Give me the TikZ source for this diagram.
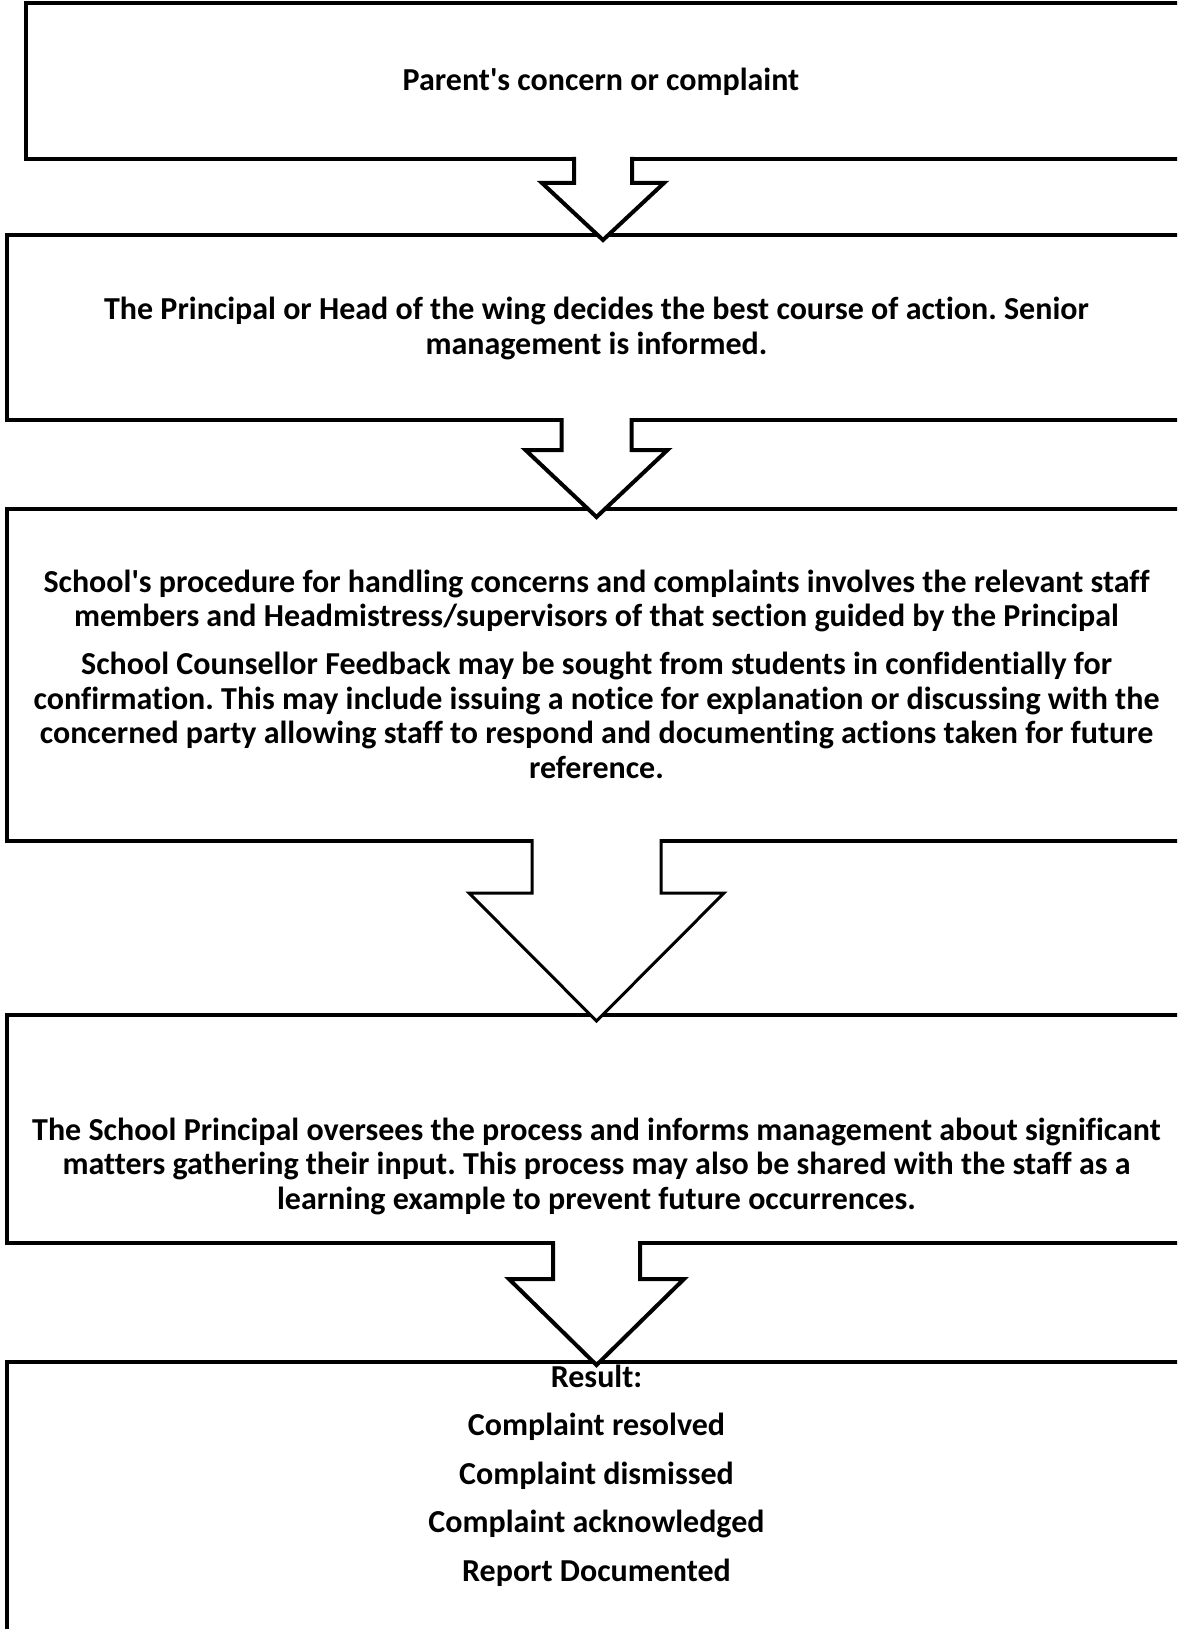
\documentclass[tikz,border=0pt]{standalone}
\usepackage{fontspec}
\setmainfont{Carlito}[Ligatures={NoCommon}]
\usetikzlibrary{calc}
\frenchspacing

\begin{document}
\begin{tikzpicture}[x=1pt,y=-1pt]
\tikzstyle{every node}+=[inner sep=0pt,outer sep=0pt]
\tikzstyle{stage}=[draw=black,line width=4pt,anchor=north west]
\tikzstyle{words}=[align=center,font=\fontsize{32}{34.5}\selectfont\bfseries]
\tikzstyle{blockarrow}=[draw=black,fill=white,line width=4pt]
\path[use as bounding box,clip] (0,0) rectangle (1177,1629);
\fill[white] (0,0) rectangle (1177,1629);
\node[stage,minimum width=1154,minimum height=156] (b1) at (26,3) {};
\node[stage,minimum width=1179,minimum height=185] (b2) at (7,235) {};
\node[stage,minimum width=1179,minimum height=332] (b3) at (7,509) {};
\node[stage,minimum width=1179,minimum height=228] (b4) at (7,1015) {};
\node[stage,minimum width=1179,minimum height=400] (b5) at (7,1362) {};
\draw[blockarrow] ($(b1.south)+(-29,-2)$) -- ($(b1.south)+(-29,24)$) -- ($(b1.south)+(-61,24)$) -- ($(b1.south |- b2.north)+(0,5)$) -- ($(b1.south)+(61,24)$) -- ($(b1.south)+(29,24)$) -- ($(b1.south)+(29,-2)$);
\draw[blockarrow] ($(b2.south)+(-35,-2)$) -- ($(b2.south)+(-35,30)$) -- ($(b2.south)+(-71,30)$) -- ($(b3.north)+(0,8)$) -- ($(b2.south)+(71,30)$) -- ($(b2.south)+(35,30)$) -- ($(b2.south)+(35,-2)$);
\draw[blockarrow,line width=3pt] ($(b3.south)+(-64.5,-2)$) -- ($(b3.south)+(-64.5,52)$) -- ($(b3.south)+(-127.5,52)$) -- ($(b4.north)+(0,6)$) -- ($(b3.south)+(127.5,52)$) -- ($(b3.south)+(64.5,52)$) -- ($(b3.south)+(64.5,-2)$);
\draw[blockarrow] ($(b4.south)+(-43.5,-2)$) -- ($(b4.south)+(-43.5,36)$) -- ($(b4.south)+(-87.5,36)$) -- ($(b5.north)+(0,3)$) -- ($(b4.south)+(87.5,36)$) -- ($(b4.south)+(43.5,36)$) -- ($(b4.south)+(43.5,-2)$);
\node[words] (t1) at ($(b1)+(-2,1)$) {Parent\textquotesingle s concern or complaint};
\node[words] (t2) at ($(b2)+(0,1)$) {The Principal or Head of the wing decides the best course of action. Senior\\management is informed.};
\node[words] (t3) at ($(b3)+(0,-1)$) {School\textquotesingle s procedure for handling concerns and complaints involves the relevant staff\\members and Headmistress/supervisors of that section guided by the Principal\\[13.5pt]School Counsellor Feedback may be sought from students in confidentially for\\confirmation. This may include issuing a notice for explanation or discussing with the\\concerned party allowing staff to respond and documenting actions taken for future\\reference.};
\node[words] (t4) at ($(b4)+(0,37)$) {The School Principal oversees the process and informs management about significant\\matters gathering their input. This process may also be shared with the staff as a\\learning example to prevent future occurrences.};
\node[words,anchor=north] (t5) at ($(b5.north)+(0,3)$) {Result:\\[14pt]Complaint resolved\\[14pt]Complaint dismissed\\[14pt]Complaint acknowledged\\[14pt]Report Documented};
\end{tikzpicture}
\end{document}
